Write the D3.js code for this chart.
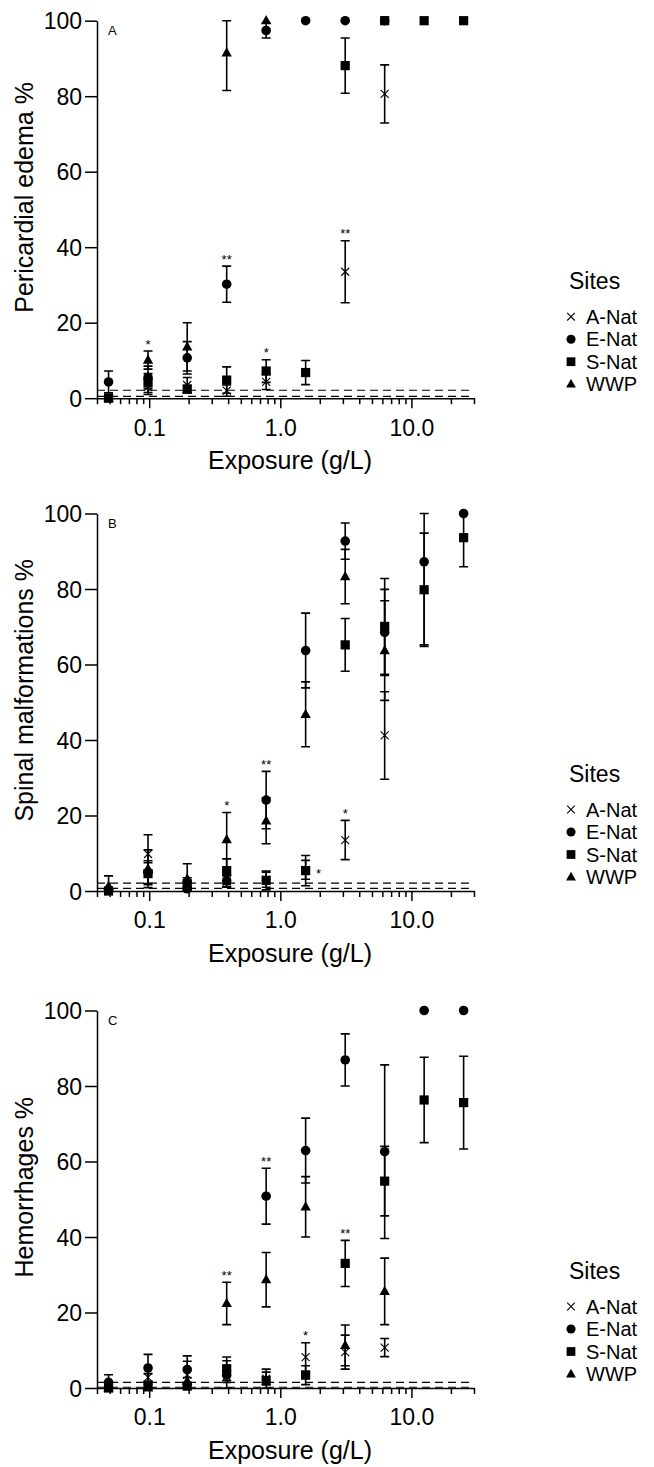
<!DOCTYPE html>
<html>
<head>
<meta charset="utf-8">
<script src="https://cdn.jsdelivr.net/npm/d3@7"></script>
<style>
  body { margin: 0; background: #fff; }
  svg { display: block; font-family: "Liberation Sans", Arial, sans-serif; }
</style>
</head>
<body>
<svg id="chart" width="654" height="1467"></svg>
<script>
// exposure concentrations (g/L)
const doses = [0.049, 0.098, 0.195, 0.39, 0.78, 1.56, 3.125, 6.25, 12.5, 25];
const sites = ["A-Nat", "E-Nat", "S-Nat", "WWP"];
const majorTicks = [0.1, 1, 10];
const minorTicks = [0.04, 0.05, 0.06, 0.07, 0.08, 0.09, 0.2, 0.3, 0.4, 0.5, 0.6, 0.7, 0.8, 0.9,
                    2, 3, 4, 5, 6, 7, 8, 9, 20, 30];
const yTicks = [0, 20, 40, 60, 80, 100];

// rows follow sites order: A-Nat, E-Nat, S-Nat, WWP
const edemaMean = [
  [0, 3, 3.5, 2, 4.3, null, 33.5, 80.6, null, null],
  [4.3, 5.5, 10.7, 30.2, 97.4, 100, 100, 100, null, null],
  [0, 4, 2.4, 4.8, 7.2, 6.8, 88.1, 100, 100, 100],
  [0, 10.1, 13.6, 91.5, 100, null, null, null, null, null]
];
const edemaErr = [
  [0, 2, 2, 1.5, 2, 0, 8.2, 7.7, 0, 0],
  [2.9, 3, 4.3, 4.8, 2, 0, 0, 0, 0, 0],
  [0, 2.5, 1, 3.5, 3, 3.2, 7.3, 0, 0, 0],
  [0, 2.4, 6.4, 10, 0, 0, 0, 0, 0, 0]
];
const spinalMean = [
  [0, 9.8, 1.5, 2.5, 3, 5.6, 13.5, 41.2, null, null],
  [0.3, 5, 0.6, 2.7, 24.1, 63.7, 92.7, 68.5, 87.2, 100],
  [0, 4.6, 2, 5.2, 2.8, 5.4, 65.2, 70.1, 79.8, 93.6],
  [1.3, 5.9, 3.2, 13.6, 18.6, 46.8, 83.3, 63.7, null, null]
];
const spinalErr = [
  [0, 5.1, 1, 1.5, 2, 2.5, 5.2, 11.6, 0, 0],
  [0.5, 3, 0.5, 1.5, 7.6, 9.9, 4.8, 11.4, 22, 0],
  [0, 2.9, 1.5, 3.3, 2.5, 4, 7, 12.7, 15, 7.7],
  [2.7, 5, 4, 7.2, 6.1, 8.6, 7.2, 13.2, 0, 0]
];
const hemoMean = [
  [0, 2.8, 3.5, 3, 2.5, 8.2, 9.5, 10.7, null, null],
  [1.5, 5.3, 4.9, 3.4, 50.8, 62.9, 86.9, 62.6, 100, 100],
  [0, 0.5, 0.5, 5.1, 2, 3.4, 33, 54.8, 76.3, 75.6],
  [0, 0, 1.8, 22.4, 28.7, 48, 11.3, 25.6, null, null]
];
const hemoErr = [
  [0, 1, 3.6, 1.5, 1.7, 3.8, 4.5, 2.4, 0, 0],
  [2, 3.6, 3.6, 3.8, 7.4, 8.6, 6.9, 23, 0, 0],
  [0, 0.5, 0.5, 3.1, 3, 2.5, 6.1, 9.2, 11.3, 12.3],
  [0, 0, 1, 5.6, 7.2, 8, 5.4, 8.8, 0, 0]
];

// control levels (dashed lines)
const edemaCtrl = [2.1, 0.5];
const spinalCtrl = [2.1, 0.7];
const hemoCtrl = [1.5, 0.2];

// significance marks: site index, dose index, label
const edemaSig = [[3, 1, "*"], [1, 3, "**"], [2, 4, "*"], [0, 6, "**"]];
const spinalSig = [[3, 3, "*"], [1, 4, "**"], [2, 5, "*", "right"], [0, 6, "*"]];
const hemoSig = [[3, 3, "**"], [1, 4, "**"], [0, 5, "*"], [2, 6, "**"]];

const panels = [
  {label: "A", title: "Pericardial edema %", mean: edemaMean, err: edemaErr, ctrl: edemaCtrl, sig: edemaSig, top: 20.7},
  {label: "B", title: "Spinal malformations %", mean: spinalMean, err: spinalErr, ctrl: spinalCtrl, sig: spinalSig, top: 513.5},
  {label: "C", title: "Hemorrhages %", mean: hemoMean, err: hemoErr, ctrl: hemoCtrl, sig: hemoSig, top: 1010.5}
];

const svg = d3.select("#chart");
const left = 97, right = 474, plotH = 377.5;

function marker(g, site, size) {
  const s = size || 1;
  if (site === 0) {
    const a = 4 * s;
    g.append("path").attr("d", `M${-a},${-a}L${a},${a}M${-a},${a}L${a},${-a}`)
      .attr("stroke", "#000").attr("stroke-width", 1.1).attr("fill", "none");
  } else if (site === 1) {
    g.append("circle").attr("r", 4.8 * s).attr("fill", "#000");
  } else if (site === 2) {
    const h = 4.6 * s;
    g.append("rect").attr("x", -h).attr("y", -h).attr("width", 2 * h).attr("height", 2 * h).attr("fill", "#000");
  } else {
    g.append("path").attr("d", `M0,${-5.6 * s}L${5.2 * s},${3.6 * s}L${-5.2 * s},${3.6 * s}Z`).attr("fill", "#000");
  }
}

panels.forEach(p => {
  const x = d3.scaleLog().domain([0.04, 30]).range([left, right]);
  const y = d3.scaleLinear().domain([0, 100]).range([p.top + plotH, p.top]);
  const g = svg.append("g");

  // control dashed lines
  g.selectAll(".ctrl").data(p.ctrl).enter().append("line")
    .attr("x1", left).attr("x2", right)
    .attr("y1", d => y(d)).attr("y2", d => y(d))
    .attr("stroke", "#000").attr("stroke-width", 1.2).attr("stroke-dasharray", "8,5");

  // axes
  const yAxis = g.append("g").attr("transform", `translate(${left},0)`)
    .call(d3.axisLeft(y).tickValues(yTicks).tickSize(12).tickSizeOuter(0).tickPadding(3));
  yAxis.selectAll("text").attr("font-size", 23).attr("dy", "0.36em");

  const xAxis = g.append("g").attr("transform", `translate(0,${y(0)})`)
    .call(d3.axisBottom(x).tickValues(majorTicks).tickSize(10).tickSizeOuter(0).tickPadding(11)
      .tickFormat(d3.format(".1f")));
  xAxis.selectAll("text").attr("font-size", 23);
  g.append("g").attr("transform", `translate(0,${y(0)})`)
    .call(d3.axisBottom(x).tickValues(minorTicks).tickSize(6).tickSizeOuter(0).tickFormat(""))
    .select(".domain").remove();
  g.selectAll(".domain, .tick line").attr("stroke", "#000").attr("stroke-width", 1.5);
  g.selectAll("text").attr("font-family", null).attr("fill", "#000");

  // titles
  g.append("text").attr("transform", `translate(33,${(y(0) + y(100)) / 2 - 12}) rotate(-90)`)
    .attr("text-anchor", "middle").attr("font-size", 25).text(p.title);
  g.append("text").attr("x", 290).attr("y", y(0) + 71)
    .attr("text-anchor", "middle").attr("font-size", 25).text("Exposure (g/L)");
  g.append("text").attr("x", 108).attr("y", p.top + 14.5).attr("font-size", 13).text(p.label);

  // error bars and markers
  sites.forEach((s, si) => {
    doses.forEach((d, di) => {
      const v = p.mean[si][di];
      if (v === null) return;
      const e = p.err[si][di];
      const px = x(d);
      if (e > 0) {
        const y1 = y(Math.min(100, v + e)), y2 = y(Math.max(0, v - e));
        g.append("path")
          .attr("d", `M${px},${y1}V${y2}M${px - 4.5},${y1}H${px + 4.5}M${px - 4.5},${y2}H${px + 4.5}`)
          .attr("stroke", "#000").attr("stroke-width", 1.6).attr("fill", "none");
      }
    });
  });
  sites.forEach((s, si) => {
    doses.forEach((d, di) => {
      const v = p.mean[si][di];
      if (v === null) return;
      marker(g.append("g").attr("transform", `translate(${x(d)},${y(v)})`), si);
    });
  });

  // significance asterisks
  p.sig.forEach(([si, di, lab, place]) => {
    const v = p.mean[si][di], e = p.err[si][di];
    const t = g.append("text").attr("font-size", 13).attr("text-anchor", "middle").text(lab);
    if (place === "right") {
      t.attr("x", x(doses[di]) + 13).attr("y", y(v) + 7);
    } else {
      t.attr("x", x(doses[di])).attr("y", y(Math.min(100, v + e)) - 2.5);
    }
  });

  // legend
  const lg = svg.append("g").attr("transform", `translate(569,${p.top})`);
  lg.append("text").attr("x", 0).attr("y", 268).attr("font-size", 23).text("Sites");
  sites.forEach((s, si) => {
    const ry = 303 + si * 22.5;
    marker(lg.append("g").attr("transform", `translate(2,${ry - 7})`), si, 0.95);
    lg.append("text").attr("x", 17).attr("y", ry).attr("font-size", 20).text(s);
  });
});
</script>
</body>
</html>
